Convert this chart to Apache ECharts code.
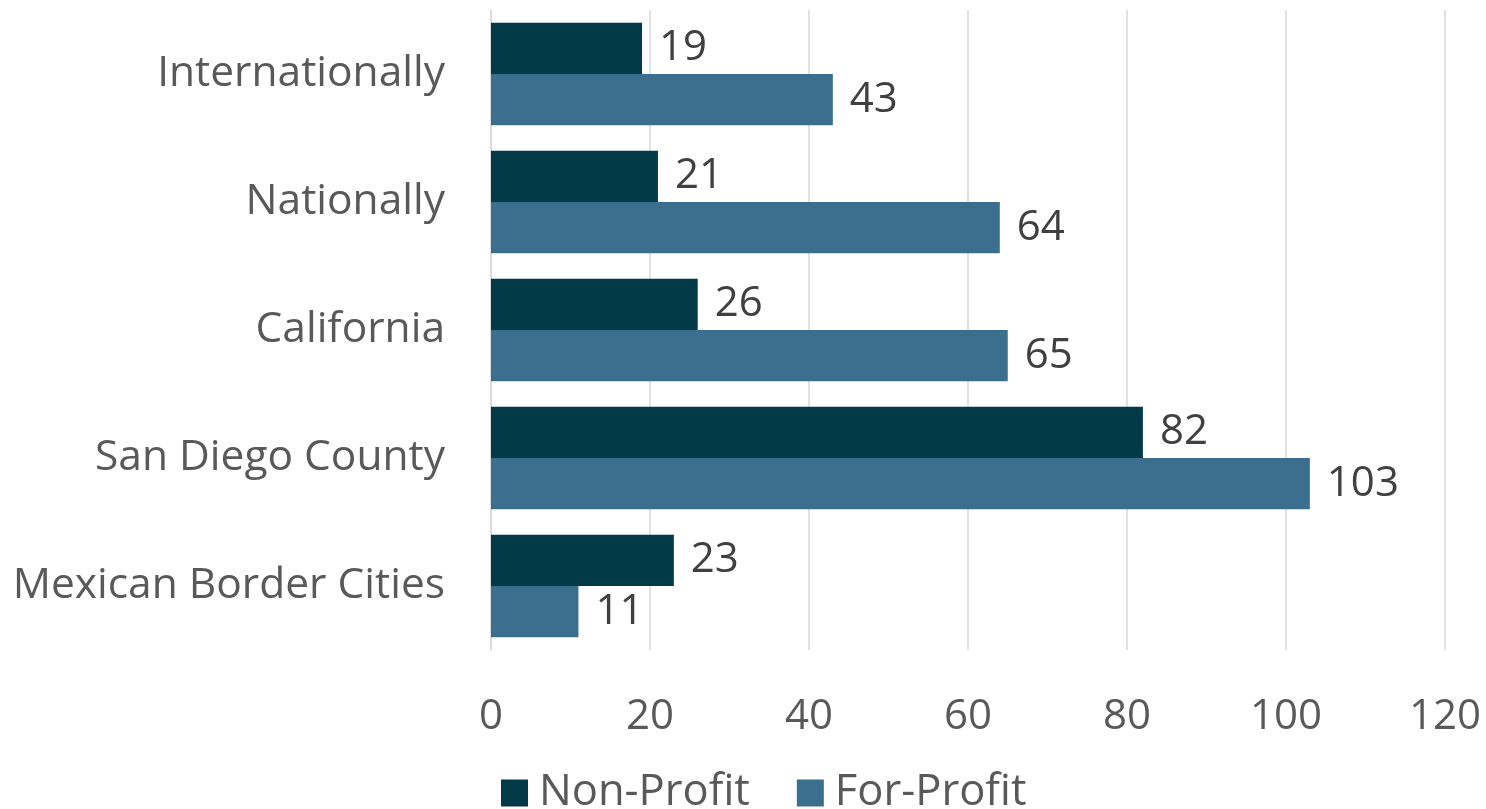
<!DOCTYPE html>
<html>
<head>
<meta charset="utf-8">
<script src="https://cdn.jsdelivr.net/npm/echarts@6/dist/echarts.min.js"></script>
<style>
html,body{margin:0;padding:0;background:#fff;}
#c{width:1486px;height:809px;}
</style>
</head>
<body>
<div id="c"></div>
<script>
const categories = ["Internationally", "Nationally", "California", "San Diego County", "Mexican Border Cities"];
const nonProfit = [19, 21, 26, 82, 23];
const forProfit = [43, 64, 65, 103, 11];
const xTicks = { min: 0, max: 120, interval: 20 };

const font = "'Open Sans', 'Noto Sans', sans-serif";
const chart = echarts.init(document.getElementById('c'), null, { renderer: 'canvas' });
chart.setOption({
  animation: false,
  textStyle: { fontFamily: font },
  legend: {
    data: ["Non-Profit", "For-Profit"],
    left: 496, top: 766,
    itemWidth: 27, itemHeight: 27, itemGap: 47,
    icon: 'rect',
    textStyle: { fontSize: 43.5, color: '#595959', fontFamily: font, padding: [0, 0, 0, 6] }
  },
  grid: { left: 491, right: 41, top: 10, bottom: 159, containLabel: false },
  xAxis: {
    type: 'value', min: xTicks.min, max: xTicks.max, interval: xTicks.interval,
    axisLine: { show: false }, axisTick: { show: false },
    splitLine: { show: true, lineStyle: { color: '#d9d9d9', width: 1.5 } },
    axisLabel: { fontSize: 42, color: '#595959', margin: 46, fontFamily: font }
  },
  yAxis: {
    type: 'category', data: categories, inverse: true,
    axisLine: { show: true, lineStyle: { color: '#d9d9d9', width: 1.5 } },
    axisTick: { show: false },
    axisLabel: { fontSize: 42.5, color: '#595959', margin: 46, fontFamily: font }
  },
  series: [
    {
      name: "Non-Profit", type: 'bar', data: nonProfit,
      barGap: '0%', barCategoryGap: '20%',
      itemStyle: { color: '#033a4a' },
      label: { show: true, position: 'right', distance: 17, fontSize: 42, color: '#404040', fontFamily: font }
    },
    {
      name: "For-Profit", type: 'bar', data: forProfit,
      barGap: '0%', barCategoryGap: '20%',
      itemStyle: { color: '#3c6f8e' },
      label: { show: true, position: 'right', distance: 17, fontSize: 42, color: '#404040', fontFamily: font }
    }
  ]
});
</script>
</body>
</html>
